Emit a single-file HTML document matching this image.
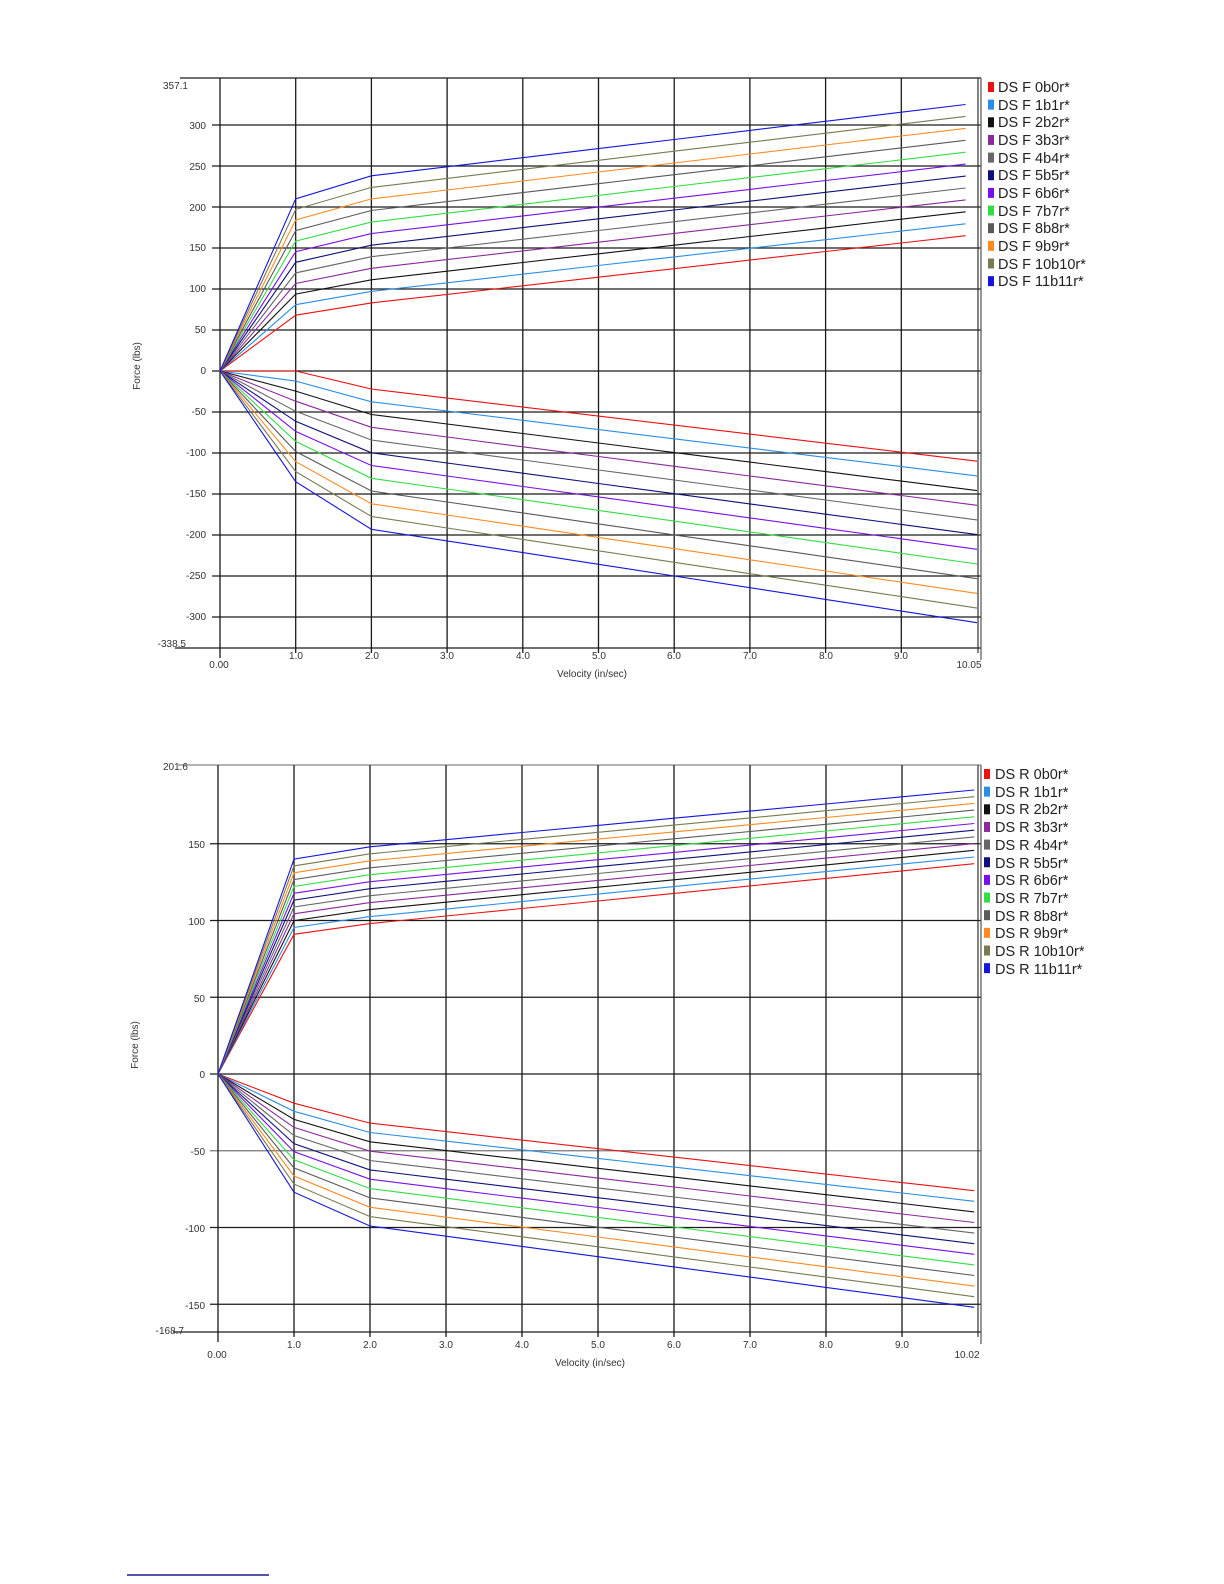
<!DOCTYPE html>
<html><head><meta charset="utf-8"><style>
html,body{margin:0;padding:0;background:#fff;width:1224px;height:1584px;overflow:hidden}
svg{display:block}
text{font-family:"Liberation Sans","DejaVu Sans",sans-serif}
.t{font-size:10px;fill:#333}
.lg{font-size:14.5px;fill:#222}
</style></head><body>
<svg id="s" width="1224" height="1584" viewBox="0 0 1224 1584" xmlns="http://www.w3.org/2000/svg">
<g id="g1"></g><g id="g2"></g>
<!-- chart1 labels -->
<g class="t" text-anchor="end">
<text x="188" y="89">357.1</text>
<text x="206" y="129">300</text><text x="206" y="170">250</text><text x="206" y="211">200</text>
<text x="206" y="251">150</text><text x="206" y="292">100</text><text x="206" y="333">50</text>
<text x="206" y="374">0</text><text x="206" y="415">-50</text><text x="206" y="456">-100</text>
<text x="206" y="497">-150</text><text x="206" y="538">-200</text><text x="206" y="579">-250</text>
<text x="206" y="620">-300</text><text x="186" y="647">-338.5</text>
</g>
<g class="t" text-anchor="middle">
<text x="219" y="668">0.00</text><text x="296" y="659">1.0</text><text x="372" y="659">2.0</text>
<text x="447" y="659">3.0</text><text x="523" y="659">4.0</text><text x="599" y="659">5.0</text>
<text x="674" y="659">6.0</text><text x="750" y="659">7.0</text><text x="826" y="659">8.0</text>
<text x="901" y="659">9.0</text><text x="969" y="668">10.05</text>
<text x="592" y="677">Velocity (in/sec)</text>
<text x="0" y="0" transform="translate(140,366) rotate(-90)">Force (lbs)</text>
</g>
<!-- chart2 labels -->
<g class="t" text-anchor="end">
<text x="188" y="770">201.6</text>
<text x="205" y="848">150</text><text x="205" y="925">100</text><text x="205" y="1002">50</text>
<text x="205" y="1078">0</text><text x="205" y="1155">-50</text><text x="205" y="1232">-100</text>
<text x="205" y="1309">-150</text><text x="184" y="1334">-168.7</text>
</g>
<g class="t" text-anchor="middle">
<text x="217" y="1358">0.00</text><text x="294" y="1348">1.0</text><text x="370" y="1348">2.0</text>
<text x="446" y="1348">3.0</text><text x="522" y="1348">4.0</text><text x="598" y="1348">5.0</text>
<text x="674" y="1348">6.0</text><text x="750" y="1348">7.0</text><text x="826" y="1348">8.0</text>
<text x="902" y="1348">9.0</text><text x="967" y="1358">10.02</text>
<text x="590" y="1366">Velocity (in/sec)</text>
<text x="0" y="0" transform="translate(138,1045) rotate(-90)">Force (lbs)</text>
</g>
<g class="lg" id="leg1">
<text x="998" y="92">DS F 0b0r*</text><text x="998" y="110">DS F 1b1r*</text><text x="998" y="127">DS F 2b2r*</text>
<text x="998" y="145">DS F 3b3r*</text><text x="998" y="163">DS F 4b4r*</text><text x="998" y="180">DS F 5b5r*</text>
<text x="998" y="198">DS F 6b6r*</text><text x="998" y="216">DS F 7b7r*</text><text x="998" y="233">DS F 8b8r*</text>
<text x="998" y="251">DS F 9b9r*</text><text x="998" y="269">DS F 10b10r*</text><text x="998" y="286">DS F 11b11r*</text>
</g>
<g class="lg" id="leg2">
<text x="995" y="779">DS R 0b0r*</text><text x="995" y="797">DS R 1b1r*</text><text x="995" y="814">DS R 2b2r*</text>
<text x="995" y="832">DS R 3b3r*</text><text x="995" y="850">DS R 4b4r*</text><text x="995" y="868">DS R 5b5r*</text>
<text x="995" y="885">DS R 6b6r*</text><text x="995" y="903">DS R 7b7r*</text><text x="995" y="921">DS R 8b8r*</text>
<text x="995" y="938">DS R 9b9r*</text><text x="995" y="956">DS R 10b10r*</text><text x="995" y="974">DS R 11b11r*</text>
</g>
<line x1="127" y1="1575" x2="269" y2="1575" stroke="#1a1a8a" stroke-width="1.5"/>
</svg>
<script>
var NS="http://www.w3.org/2000/svg";
var cols=["#ee1111","#2a8ee8","#111111","#8a2a9a","#666666","#10107a","#7a10e8","#33dd44","#5a5a5a","#ff8a20","#7a7a50","#1515dd"];
function el(p,n,a){var e=document.createElementNS(NS,n);for(var k in a)e.setAttribute(k,a[k]);p.appendChild(e);return e;}
function chart(g,c){
 var X=function(v){return c.x0+v*c.sx}, Y=function(f){return c.y0-f*c.sy};
 // grid
 for(var f=c.gmin;f<=c.gmax;f+=50){el(g,"line",{x1:c.x0-8,x2:c.xr,y1:Y(f),y2:Y(f),stroke:(c.gray&&f==-50)?"#777":"#1a1a1a","stroke-width":1.3});}
 el(g,"line",{x1:c.x0-45,x2:c.xr,y1:c.yb,y2:c.yb,stroke:"#1a1a1a","stroke-width":1.3});
 el(g,"line",{x1:c.x0-40,x2:c.xr,y1:c.yt,y2:c.yt,stroke:c.topc,"stroke-width":1.3});
 for(var i=0;i<=9;i++){el(g,"line",{x1:X(i),x2:X(i),y1:c.yt,y2:c.yb+(i==0?10:5),stroke:"#1a1a1a","stroke-width":1.3});}
 el(g,"line",{x1:c.xr-3,x2:c.xr-3,y1:c.yt,y2:c.yb+5,stroke:"#333","stroke-width":1.2});
 el(g,"line",{x1:c.xr,x2:c.xr,y1:c.yt,y2:c.yb+12,stroke:"#555","stroke-width":1.2});
 // series
 for(var s=0;s<12;s++){
  var t=s/11;
  [c.up,c.dn].forEach(function(d){
   var pts=[[0,0]];
   pts.push([1,d.a1[0]+t*(d.a1[1]-d.a1[0])]);
   var a2=d.a2[0]+t*(d.a2[1]-d.a2[0]), ae=d.ae[0]+t*(d.ae[1]-d.ae[0]);
   for(var v=2;v<=d.xe;v+=1){pts.push([v,a2+(ae-a2)*(v-2)/(d.xe-2)]);}
   pts.push([d.xe,ae]);
   el(g,"polyline",{points:pts.map(function(p){return X(p[0]).toFixed(1)+","+Y(p[1]).toFixed(1)}).join(" "),fill:"none",stroke:cols[s],"stroke-width":1.1});
  });
  el(g,"rect",{x:c.lx,y:c.ly+s*17.65-5,width:6,height:10,fill:cols[s]});
 }
}
chart(document.getElementById("g1"),{x0:220,sx:75.7,y0:371,sy:0.82,gmin:-300,gmax:300,xr:981,yt:78,yb:648,topc:"#1a1a1a",
 up:{a1:[68,210],a2:[83,238],ae:[165,325],xe:9.85},
 dn:{a1:[0,-135],a2:[-22,-193],ae:[-110,-307],xe:10.0},lx:988,ly:87});
chart(document.getElementById("g2"),{x0:218,sx:76,y0:1074,sy:1.535,gmin:-150,gmax:150,xr:981,yt:765,yb:1332,topc:"#888",gray:true,
 up:{a1:[91,140],a2:[98,148],ae:[137,185],xe:9.95},
 dn:{a1:[-19,-77],a2:[-32,-99],ae:[-76,-152],xe:9.95},lx:984,ly:774});
</script>
</body></html>
